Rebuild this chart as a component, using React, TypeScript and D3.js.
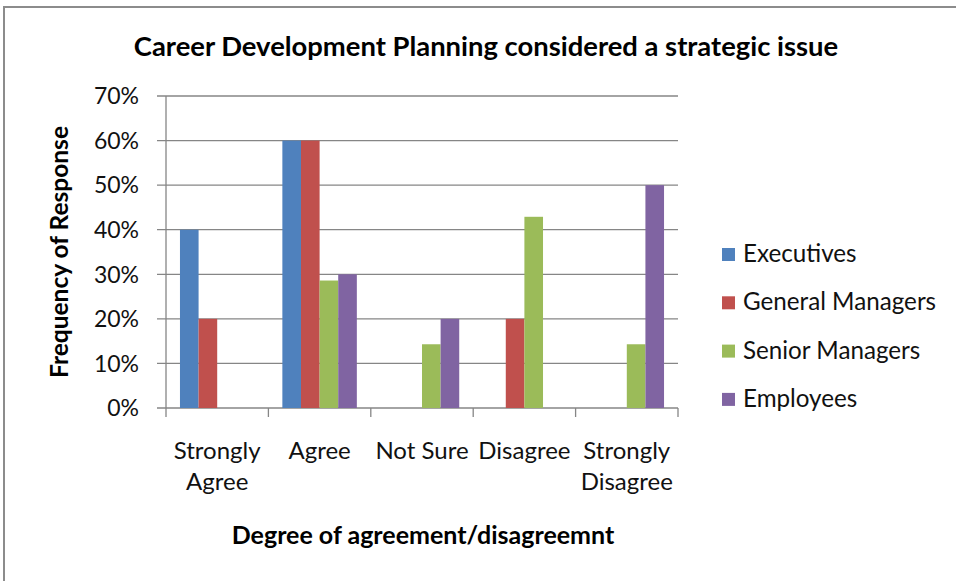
import React from "react";
import * as d3 from "d3";

const categories = ["Strongly Agree", "Agree", "Not Sure", "Disagree", "Strongly Disagree"];
const seriesNames = ["Executives", "General Managers", "Senior Managers", "Employees"];
const executives = [40, 60, 0, 0, 0];
const generalManagers = [20, 60, 0, 20, 0];
const seniorManagers = [0, 28.6, 14.3, 42.9, 14.3];
const employees = [0, 30, 20, 0, 50];
const yTicks = [0, 10, 20, 30, 40, 50, 60, 70];
const colors = ["#4F81BD", "#C0504D", "#9BBB59", "#8064A2"];

const title = "Career Development Planning considered a strategic issue";
const xTitle = "Degree of agreement/disagreemnt";
const yTitle = "Frequency of Response";

const W = 956;
const H = 581;
const FONT = "Lato, 'Open Sans', sans-serif";

export default function App() {
  const seriesValues = [executives, generalManagers, seniorManagers, employees];
  const plot = { left: 166, right: 678, top: 96, bottom: 408 };

  const x = d3.scaleBand<string>().domain(categories).range([plot.left, plot.right]).paddingInner(0).paddingOuter(0);
  const barW = x.bandwidth() / 5.5;
  const xs = d3
    .scaleBand<string>()
    .domain(seriesNames)
    .range([barW * 0.75, barW * 0.75 + barW * 4])
    .padding(0);
  const y = d3.scaleLinear().domain([0, 70]).range([plot.bottom, plot.top]);

  const boundaries = d3.range(categories.length + 1).map((i) => plot.left + i * x.step());

  return (
    <svg width={W} height={H} style={{ position: "absolute", left: 0, top: 0, background: "#fff" }}>
      <rect x={4} y={7} width={W + 10} height={H + 10} fill="#fff" stroke="#8c8c8c" strokeWidth={2} />
      <text x={486} y={56} textAnchor="middle" fontFamily={FONT} fontWeight="bold" fontSize={27.4} fill="#000">
        {title}
      </text>
      {yTicks.map((t) => (
        <g key={t}>
          <line x1={157} x2={plot.right} y1={y(t)} y2={y(t)} stroke="#868686" strokeWidth={1.3} />
          <text x={139} y={y(t)} dy="0.36em" textAnchor="end" fontFamily={FONT} fontSize={23} fill="#111">
            {t + "%"}
          </text>
        </g>
      ))}
      <line x1={plot.left} x2={plot.left} y1={plot.top} y2={plot.bottom} stroke="#868686" strokeWidth={1.3} />
      {boundaries.map((b, i) => (
        <line key={i} x1={b} x2={b} y1={plot.bottom} y2={plot.bottom + 9} stroke="#868686" strokeWidth={1.3} />
      ))}
      {seriesValues.map((vals, si) =>
        vals.map((v, ci) =>
          v > 0 ? (
            <rect
              key={si + "-" + ci}
              x={(x(categories[ci]) as number) + (xs(seriesNames[si]) as number)}
              y={y(v)}
              width={xs.bandwidth()}
              height={plot.bottom - y(v)}
              fill={colors[si]}
            />
          ) : null
        )
      )}
      {categories.map((c) => {
        const words = c.split(" ");
        const cx = (x(c) as number) + x.bandwidth() / 2;
        const lines = c === "Not Sure" ? [c] : words;
        return (
          <text key={c} textAnchor="middle" fontFamily={FONT} fontSize={24} fill="#111">
            {lines.map((l, i) => (
              <tspan key={i} x={cx} y={459 + i * 31}>
                {l}
              </tspan>
            ))}
          </text>
        );
      })}
      <text x={423} y={544} textAnchor="middle" fontFamily={FONT} fontWeight="bold" fontSize={25} fill="#000">
        {xTitle}
      </text>
      <text
        transform={`translate(68,252) rotate(-90)`}
        textAnchor="middle"
        fontFamily={FONT}
        fontWeight="bold"
        fontSize={24.5}
        fill="#000"
      >
        {yTitle}
      </text>
      {seriesNames.map((s, i) => (
        <g key={s}>
          <rect x={722} y={248 + i * 48.3} width={13} height={13} fill={colors[i]} />
          <text x={743} y={262 + i * 48.3} fontFamily={FONT} fontSize={24.2} fill="#111">
            {s}
          </text>
        </g>
      ))}
    </svg>
  );
}
